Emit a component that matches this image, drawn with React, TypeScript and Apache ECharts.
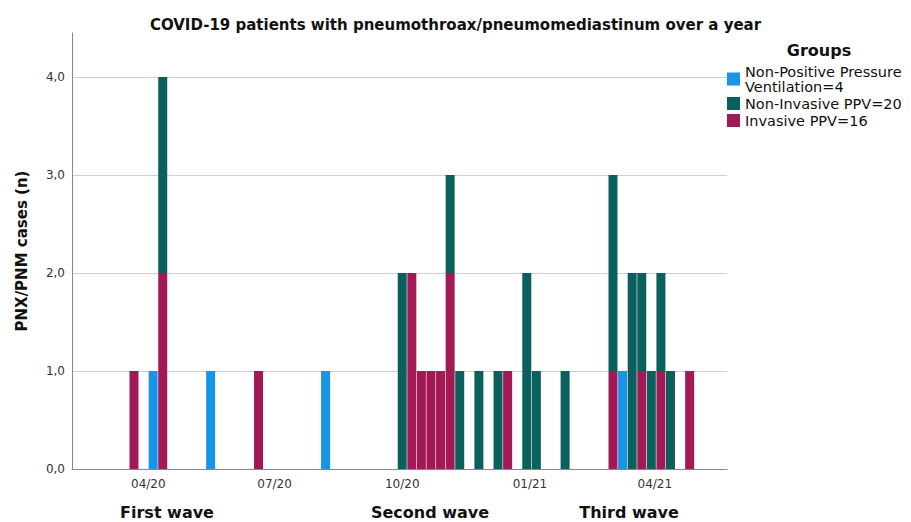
import React, { useEffect, useRef } from "react";
import * as echarts from "echarts";

// Weekly bins (centre date of each week that has cases)
const weeks = [
  "2020-03-19", "2020-04-02", "2020-04-09", "2020-05-14", "2020-06-18", "2020-08-06",
  "2020-10-01", "2020-10-08", "2020-10-15", "2020-10-22", "2020-10-29", "2020-11-05",
  "2020-11-12", "2020-11-26", "2020-12-10", "2020-12-17", "2020-12-31", "2021-01-07",
  "2021-01-28", "2021-03-04", "2021-03-11", "2021-03-18", "2021-03-25", "2021-04-01",
  "2021-04-08", "2021-04-15", "2021-04-29",
];
const nonPPV = [0, 1, 0, 1, 0, 1, 0, 0, 0, 0, 0, 0, 0, 0, 0, 0, 0, 0, 0, 0, 1, 0, 0, 0, 0, 0, 0];
const invasivePPV = [1, 0, 2, 0, 1, 0, 0, 2, 1, 1, 1, 2, 0, 0, 0, 1, 0, 0, 0, 1, 0, 0, 1, 0, 1, 0, 1];
const nonInvasivePPV = [0, 0, 2, 0, 0, 0, 2, 0, 0, 0, 0, 1, 1, 1, 1, 0, 2, 1, 1, 2, 0, 2, 1, 1, 1, 1, 0];

const seriesNames = [
  "Non-Positive Pressure\nVentilation=4",
  "Invasive PPV=16",
  "Non-Invasive PPV=20",
];
const legendOrder = [seriesNames[0], seriesNames[2], seriesNames[1]];
const colors = ["#1a94e6", "#a21a55", "#0b5f5c"];

const tickDates = ["2020-04-01", "2020-07-01", "2020-10-01", "2021-01-01", "2021-04-01"];
const tickLabels = ["04/20", "07/20", "10/20", "01/21", "04/21"];
const axisStart = "2020-02-06";
const axisEnd = "2021-05-23";

const waveLabels = ["First wave", "Second wave", "Third wave"];

const FONT = "DejaVu Sans";

export default function App() {
  const ref = useRef<HTMLDivElement>(null);
  useEffect(() => {
    if (!ref.current) return;
    const chart = echarts.init(ref.current, null, { renderer: "svg" });
    const toT = (d: string) => +echarts.time.parse(d);
    const tickTimes = tickDates.map(toT);
    const mk = (vals: number[]) => weeks.map((w, i) => [w, vals[i]]);
    const seriesData = [nonPPV, invasivePPV, nonInvasivePPV];
    chart.setOption({
      animation: false,
      textStyle: { fontFamily: FONT },
      title: {
        text: "COVID-19 patients with pneumothroax/pneumomediastinum over a year",
        left: "center",
        top: 12,
        textStyle: { fontFamily: FONT, fontSize: 15, fontWeight: "bold", color: "#111" },
      },
      legend: {
        orient: "vertical",
        left: 727,
        top: 64,
        padding: 0,
        itemWidth: 13,
        itemHeight: 13,
        itemGap: 2,
        icon: "rect",
        data: legendOrder,
        textStyle: { fontFamily: FONT, fontSize: 14.5, lineHeight: 15, color: "#111" },
      },
      graphic: [
        {
          type: "text",
          x: 819,
          y: 50,
          style: {
            text: "Groups",
            font: `bold 16px "${FONT}"`,
            fill: "#111",
            align: "center",
            verticalAlign: "middle",
          },
        },
        ...waveLabels.map((t, i) => ({
          type: "text",
          x: [167, 430, 629][i],
          y: 512,
          style: {
            text: t,
            font: `bold 16px "${FONT}"`,
            fill: "#111",
            align: "center",
            verticalAlign: "middle",
          },
        })),
      ],
      grid: { left: 72, right: 184, top: 33, bottom: 53, containLabel: false },
      xAxis: [
        {
          type: "time",
          min: toT(axisStart),
          max: toT(axisEnd),
          position: "bottom",
          axisLine: { show: true, onZero: false, lineStyle: { color: "#888", width: 1 } },
          axisTick: { show: false },
          splitLine: { show: false },
          axisLabel: { show: false },
        },
        {
          type: "value",
          min: toT(axisStart),
          max: toT(axisEnd),
          position: "bottom",
          axisLine: { show: false, onZero: false },
          axisTick: { show: false },
          splitLine: { show: false },
          axisLabel: {
            customValues: tickTimes,
            formatter: (v: number) => {
              const i = tickTimes.indexOf(v);
              return i >= 0 ? tickLabels[i] : "";
            },
            fontFamily: FONT,
            fontSize: 12,
            color: "#333",
            margin: 9,
          },
        },
      ],
      yAxis: {
        type: "value",
        min: 0,
        max: 4.45,
        interval: 1,
        name: "PNX/PNM cases (n)",
        nameLocation: "middle",
        nameGap: 43,
        nameTextStyle: { fontFamily: FONT, fontSize: 15, fontWeight: "bold", color: "#111" },
        axisLine: { show: true, lineStyle: { color: "#888", width: 1 } },
        axisTick: { show: false },
        splitLine: { show: true, showMaxLine: false, lineStyle: { color: "#cfcfcf", width: 1 } },
        axisLabel: {
          showMaxLabel: false,
          formatter: (v: number) => (Number.isInteger(v) ? v.toFixed(1).replace(".", ",") : ""),
          fontFamily: FONT,
          fontSize: 12,
          color: "#333",
          margin: 7,
        },
      },
      series: seriesNames.map((name, i) => ({
        name,
        type: "bar",
        xAxisIndex: 0,
        stack: "cases",
        barWidth: 9,
        data: mk(seriesData[i]),
        itemStyle: { color: colors[i] },
      })),
    });
    return () => chart.dispose();
  }, []);
  return (
    <div
      ref={ref}
      style={{ position: "absolute", left: 0, top: 0, width: 911, height: 522, background: "#fff" }}
    />
  );
}
